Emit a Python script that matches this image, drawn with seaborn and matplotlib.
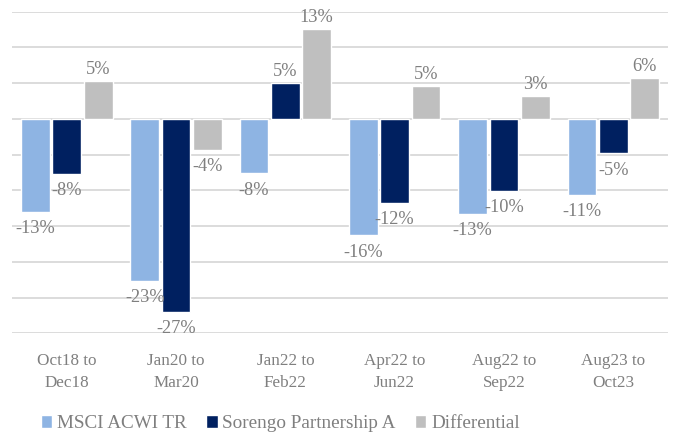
import matplotlib
matplotlib.use("Agg")
import matplotlib.pyplot as plt
import seaborn as sns
import pandas as pd

periods = ["Oct18 to\nDec18", "Jan20 to\nMar20", "Jan22 to\nFeb22",
           "Apr22 to\nJun22", "Aug22 to\nSep22", "Aug23 to\nOct23"]
msci = [-13.0, -22.7, -7.6, -16.3, -13.3, -10.6]
sorengo = [-7.7, -27.0, 5.0, -11.7, -10.1, -4.8]
differential = [5.3, -4.3, 12.6, 4.6, 3.2, 5.8]
series_names = ["MSCI ACWI TR", "Sorengo Partnership A", "Differential"]
colors = ["#8EB4E3", "#002060", "#BFBFBF"]

rows = []
for name, vals in zip(series_names, [msci, sorengo, differential]):
    for p, v in zip(periods, vals):
        rows.append({"period": p, "series": name, "value": v})
df = pd.DataFrame(rows)

sns.set_style("white")
plt.rcParams["font.family"] = ["Liberation Serif", "DejaVu Serif"]

fig = plt.figure(figsize=(6.74, 4.36), dpi=100)
ax = fig.add_axes([0.018, 0.2355, 0.973, 0.7375])

sns.barplot(data=df, x="period", y="value", hue="series", order=periods,
            hue_order=series_names, palette=colors, saturation=1,
            width=0.86, gap=0.08, errorbar=None, ax=ax, zorder=3)

ax.set_ylim(-30, 15)
ax.set_yticks(range(-30, 16, 5))
ax.set_yticklabels([])
ax.grid(axis="y", color="#D9D9D9", linewidth=1.3, zorder=0)
ax.set_axisbelow(True)
for s in ax.spines.values():
    s.set_visible(False)
ax.tick_params(axis="both", length=0)
ax.tick_params(axis="x", pad=14, labelsize=12.3, labelcolor="#7F7F7F")
for t in ax.get_xticklabels():
    t.set_linespacing(1.5)
ax.set_xlabel("")
ax.set_ylabel("")
ax.set_xlim(-0.5, len(periods) - 0.5)

# data labels: above positive bars, below negative ones
for cont in ax.containers:
    for bar in cont:
        h = bar.get_height()
        x = bar.get_x() + bar.get_width() / 2
        off = 2 if h >= 0 else -6
        ax.annotate(f"{round(h):.0f}%", (x, h), xytext=(0, off),
                    textcoords="offset points", ha="center",
                    va="bottom" if h >= 0 else "top",
                    fontsize=13.2, color="#7F7F7F")

handles, labels = ax.get_legend_handles_labels()
ax.legend(handles, labels, loc="center left", bbox_to_anchor=(0.035, 0.028),
          bbox_transform=fig.transFigure, ncol=3, frameon=False,
          fontsize=13.8, labelcolor="#7F7F7F", handlelength=0.6,
          handleheight=0.6, handletextpad=0.25, columnspacing=1.0)

fig.savefig("out.png", dpi=100)
